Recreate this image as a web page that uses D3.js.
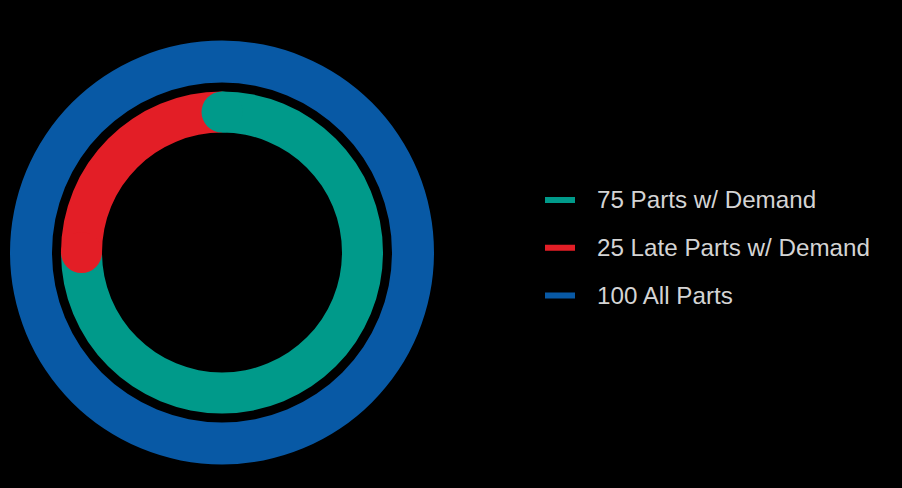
<!DOCTYPE html>
<html>
<head>
<meta charset="utf-8">
<script src="https://cdn.jsdelivr.net/npm/d3@7"></script>
<style>
  html, body { margin: 0; padding: 0; background: #000; }
  svg { display: block; }
</style>
</head>
<body>
<svg id="chart" width="902" height="488"></svg>
<script>
// ---- data ----
const innerCategories = ["Parts w/ Demand", "Late Parts w/ Demand"];
const innerValues = [75, 25];
const innerColors = ["#009a8a", "#e31e26"];

const outerCategories = ["All Parts"];
const outerValues = [100];
const outerColors = ["#0859a5"];

const legendLabels = ["75 Parts w/ Demand", "25 Late Parts w/ Demand", "100 All Parts"];
const legendColors = ["#009a8a", "#e31e26", "#0859a5"];

// ---- layout ----
const width = 902, height = 488;
const cx = 222, cy = 252.5;
const outerR = [170, 212];
const innerR = [120, 161];

const svg = d3.select("#chart");
svg.append("rect").attr("width", width).attr("height", height).attr("fill", "#000");

const g = svg.append("g").attr("transform", `translate(${cx},${cy})`);

const pie = d3.pie().sort(null).startAngle(0).endAngle(2 * Math.PI);

// outer ring
const outerArc = d3.arc().innerRadius(outerR[0]).outerRadius(outerR[1]);
g.append("g").selectAll("path")
  .data(pie(outerValues))
  .join("path")
  .attr("d", outerArc)
  .attr("fill", (d, i) => outerColors[i]);

// inner ring
const innerArc = d3.arc().innerRadius(innerR[0]).outerRadius(innerR[1]);
const innerData = pie(innerValues);
g.append("g").selectAll("path")
  .data(innerData)
  .join("path")
  .attr("d", innerArc)
  .attr("fill", (d, i) => innerColors[i]);

// rounded start caps
const midR = (innerR[0] + innerR[1]) / 2;
const capR = (innerR[1] - innerR[0]) / 2;
g.append("g").selectAll("circle")
  .data(innerData)
  .join("circle")
  .attr("cx", d => midR * Math.sin(d.startAngle))
  .attr("cy", d => -midR * Math.cos(d.startAngle))
  .attr("r", capR)
  .attr("fill", (d, i) => innerColors[i]);

// legend
const legendY = d3.scalePoint().domain(legendLabels).range([200, 295.5]);
const legend = svg.append("g");
const items = legend.selectAll("g")
  .data(legendLabels)
  .join("g")
  .attr("transform", d => `translate(545,${legendY(d)})`);
items.append("rect")
  .attr("x", 0).attr("y", -3)
  .attr("width", 30).attr("height", 6)
  .attr("fill", (d, i) => legendColors[i]);
items.append("text")
  .attr("x", 52).attr("y", 0).attr("dy", "0.35em")
  .attr("fill", "#d4d4d4")
  .style("font-family", "'Liberation Sans', Arial, Helvetica, sans-serif")
  .style("font-size", "24.2px")
  .text(d => d);
</script>
</body>
</html>
